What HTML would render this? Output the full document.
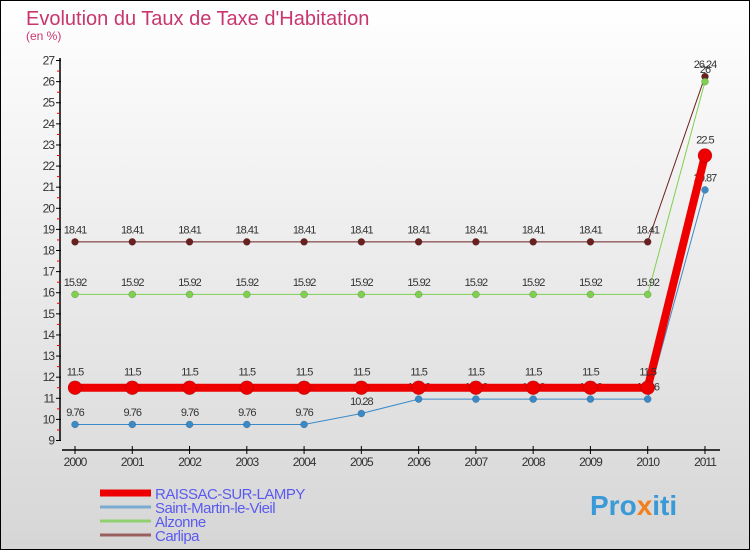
<!DOCTYPE html>
<html><head><meta charset="utf-8"><style>
body{margin:0}
#wrap{width:750px;height:550px;position:relative;box-sizing:border-box;border:1px solid #000;background:linear-gradient(#fff,#d6d6d6);font-family:"Liberation Sans",sans-serif;overflow:hidden}
</style></head><body>
<div id="wrap">
<svg id="svg" width="750" height="550" xmlns="http://www.w3.org/2000/svg" style="position:absolute;left:-1px;top:-1px">
<text x="26" y="25" font-size="20" fill="#c8366e">Evolution du Taux de Taxe d'Habitation</text>
<text x="26" y="40" font-size="12" fill="#c8366e">(en %)</text>
<text x="590" y="515" font-size="28" font-weight="bold" fill="#3a9ad8">Pro<tspan fill="#f08020">x</tspan>iti</text>
<g id="g"></g>
</svg>
</div>
<script>
const years=[2000,2001,2002,2003,2004,2005,2006,2007,2008,2009,2010,2011];
const yTicks=[9,10,11,12,13,14,15,16,17,18,19,20,21,22,23,24,25,26,27];
const raissac=[11.5,11.5,11.5,11.5,11.5,11.5,11.5,11.5,11.5,11.5,11.5,22.5];
const saintMartin=[9.76,9.76,9.76,9.76,9.76,10.28,10.96,10.96,10.96,10.96,10.96,20.87];
const alzonne=[15.92,15.92,15.92,15.92,15.92,15.92,15.92,15.92,15.92,15.92,15.92,26];
const carlipa=[18.41,18.41,18.41,18.41,18.41,18.41,18.41,18.41,18.41,18.41,18.41,26.24];
const seriesNames=["RAISSAC-SUR-LAMPY","Saint-Martin-le-Vieil","Alzonne","Carlipa"];
const NS="http://www.w3.org/2000/svg";
const g=document.getElementById('g');
const xs=i=>75+i*57.27;
const ys=v=>440.5-(v-9)*21.11;
function el(t,a,p){const e=document.createElementNS(NS,t);for(const k in a)e.setAttribute(k,a[k]);(p||g).appendChild(e);return e;}
// axes
const ya=el('line',{x1:60,y1:58,x2:60,y2:441,stroke:'#000','stroke-width':1.5});


const xa=el('line',{x1:62,y1:450,x2:720,y2:450,stroke:'#000','stroke-width':1.5});


yTicks.forEach(v=>{
 el('line',{x1:56,x2:61,y1:ys(v),y2:ys(v),stroke:'#000'});
 if(v<27) el('line',{x1:57,x2:60,y1:ys(v+0.5),y2:ys(v+0.5),stroke:'#e00'});
 const t=el('text',{x:54,y:ys(v)+4,'text-anchor':'end','font-size':12,fill:'#333','letter-spacing':'-1'});
 t.textContent=v;
 
 
});
years.forEach((y,i)=>{
 el('line',{x1:xs(i),x2:xs(i),y1:446,y2:454,stroke:'#000'});
 const t=el('text',{x:xs(i),y:466,'text-anchor':'middle','font-size':12,fill:'#333','letter-spacing':'-1'});
 t.textContent=y;
 
 
});
function series(data,color,lw,r,name){
 const p=el('polyline',{points:data.map((v,i)=>xs(i)+','+ys(v)).join(' '),fill:'none',stroke:color,'stroke-width':lw});
 
 
 data.forEach((v,i)=>{
  const c=el('circle',{cx:xs(i),cy:ys(v),r:r,fill:color,stroke:'rgba(0,0,0,0.3)','stroke-width':0.5});
  
  
  const t=el('text',{x:xs(i),y:ys(v)-(r+5),'text-anchor':'middle','font-size':11,fill:'#333','letter-spacing':'-1'});
  t.textContent=v;
  
  
 });
}
series(carlipa,'#6b2020',1,3.5,'carlipa');
series(alzonne,'#80d050',1,3.5,'alzonne');
series(saintMartin,'#3a8ac8',1,3.5,'saint-martin');
series(raissac,'#ee0000',8,7,'raissac');
const lc=['#ee0000','#7aaad0','#90d070','#9a6060'];
const lw=[7,3,3,3];
seriesNames.forEach((n,i)=>{
 const y=493+i*14;
 const l=el('line',{x1:100,x2:151,y1:y,y2:y,stroke:lc[i],'stroke-width':lw[i]});
 
 
 const t=el('text',{x:155,y:y+6,'font-size':15,fill:'#5a5af0','letter-spacing':'-0.5'});
 t.textContent=n;
 
 
});
</script>
</body></html>
